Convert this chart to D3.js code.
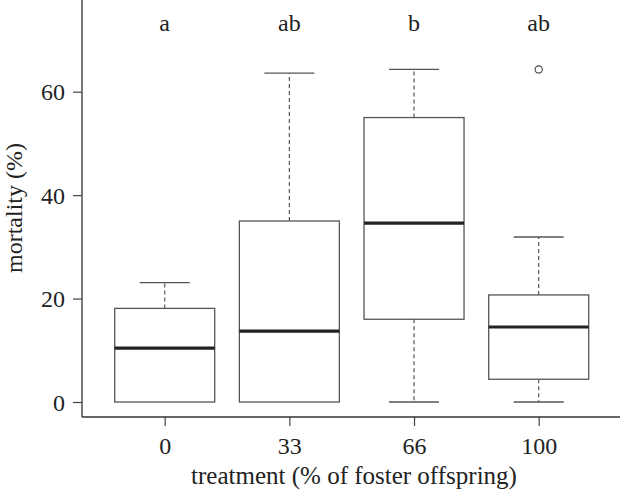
<!DOCTYPE html>
<html>
<head>
<meta charset="utf-8">
<script src="https://cdn.jsdelivr.net/npm/d3@7"></script>
<style>
  body { margin: 0; background: #fff; }
  svg { display: block; }
  text { font-family: "Liberation Serif", "DejaVu Serif", serif; fill: #222; }
</style>
</head>
<body>
<svg id="chart" width="620" height="490"></svg>
<script>
// ---- data ----
const categories = ["0", "33", "66", "100"];
const whiskerLow = [0, 0, 0, 0];
const q1Values = [0, 0, 16.0, 4.4];
const medianValues = [10.4, 13.7, 34.6, 14.5];
const q3Values = [18.1, 35.0, 55.0, 20.7];
const whiskerHigh = [23.1, 63.6, 64.3, 31.9];
const outliers = [[], [], [], [64.3]];
const groupLetters = ["a", "ab", "b", "ab"];
const yTicks = [0, 20, 40, 60];
const xTitle = "treatment (% of foster offspring)";
const yTitle = "mortality (%)";

// ---- layout ----
const svg = d3.select("#chart");
const axisX = 82, axisY = 417;
const x = d3.scalePoint().domain(categories).range([164.7, 538.7]);
const y = d3.scaleLinear().domain([0, 60]).range([402, 91.7]);
const boxW = 100, capW = 50;
const boxStroke = "#555";
const fontFam = '"Liberation Serif", serif';

const groups = categories.map((c, i) => ({
  c, lo: whiskerLow[i], q1: q1Values[i], med: medianValues[i],
  q3: q3Values[i], hi: whiskerHigh[i], out: outliers[i], letter: groupLetters[i]
}));

// axes
const yAxis = d3.axisLeft(y).tickValues(yTicks).tickSize(9).tickPadding(8).tickFormat(d3.format("d"));
const gy = svg.append("g").attr("transform", `translate(${axisX},0)`).call(yAxis);
gy.select(".domain").remove();
gy.append("line").attr("x1", 0).attr("x2", 0).attr("y1", 0).attr("y2", axisY).attr("stroke", "#333").attr("stroke-width", 1.3);
gy.selectAll(".tick line").attr("stroke", "#444").attr("stroke-width", 1.2);
gy.selectAll(".tick text").attr("font-size", 24).attr("fill", "#222").attr("dy", "0.34em")
  .style("font-family", fontFam);

const xAxis = d3.axisBottom(x).tickSize(9).tickPadding(12);
const gx = svg.append("g").attr("transform", `translate(0,${axisY})`).call(xAxis);
gx.select(".domain").remove();
gx.append("line").attr("x1", axisX).attr("x2", 620).attr("y1", 0).attr("y2", 0).attr("stroke", "#333").attr("stroke-width", 1.3);
gx.selectAll(".tick line").attr("stroke", "#444").attr("stroke-width", 1.2);
gx.selectAll(".tick text").attr("font-size", 24).attr("fill", "#222").attr("dy", "0")
  .attr("y", 454 - axisY).style("font-family", fontFam);

// titles
svg.append("text").attr("x", 354).attr("y", 484)
  .attr("text-anchor", "middle").attr("font-size", 25).text(xTitle);
svg.append("text").attr("transform", `translate(22,208) rotate(-90)`)
  .attr("text-anchor", "middle").attr("font-size", 24).text(yTitle);

// boxes
const g = svg.append("g");
const bx = g.selectAll("g.box").data(groups).join("g").attr("class", "box");

// whiskers (dashed)
bx.append("line").attr("x1", d => x(d.c)).attr("x2", d => x(d.c))
  .attr("y1", d => y(d.q3)).attr("y2", d => y(d.hi))
  .attr("stroke", boxStroke).attr("stroke-width", 1.2).attr("stroke-dasharray", "4,3");
bx.filter(d => d.q1 > d.lo).append("line").attr("x1", d => x(d.c)).attr("x2", d => x(d.c))
  .attr("y1", d => y(d.q1)).attr("y2", d => y(d.lo))
  .attr("stroke", boxStroke).attr("stroke-width", 1.2).attr("stroke-dasharray", "4,3");
// caps
bx.append("line").attr("x1", d => x(d.c) - capW / 2).attr("x2", d => x(d.c) + capW / 2)
  .attr("y1", d => y(d.hi)).attr("y2", d => y(d.hi))
  .attr("stroke", boxStroke).attr("stroke-width", 1.3);
bx.filter(d => d.q1 > d.lo).append("line").attr("x1", d => x(d.c) - capW / 2).attr("x2", d => x(d.c) + capW / 2)
  .attr("y1", d => y(d.lo)).attr("y2", d => y(d.lo))
  .attr("stroke", boxStroke).attr("stroke-width", 1.3);
// box
bx.append("rect").attr("x", d => x(d.c) - boxW / 2).attr("width", boxW)
  .attr("y", d => y(d.q3)).attr("height", d => y(d.q1) - y(d.q3))
  .attr("fill", "#fff").attr("stroke", boxStroke).attr("stroke-width", 1.3);
// median
bx.append("line").attr("x1", d => x(d.c) - boxW / 2).attr("x2", d => x(d.c) + boxW / 2)
  .attr("y1", d => y(d.med)).attr("y2", d => y(d.med))
  .attr("stroke", "#222").attr("stroke-width", 3.2);
// outliers
bx.selectAll("circle").data(d => d.out.map(v => ({ c: d.c, v }))).join("circle")
  .attr("cx", d => x(d.c)).attr("cy", d => y(d.v)).attr("r", 3.6)
  .attr("fill", "none").attr("stroke", "#444").attr("stroke-width", 1.1);
// letters
bx.append("text").attr("x", d => x(d.c)).attr("y", 31).attr("text-anchor", "middle")
  .attr("font-size", 24).text(d => d.letter);
</script>
</body>
</html>
